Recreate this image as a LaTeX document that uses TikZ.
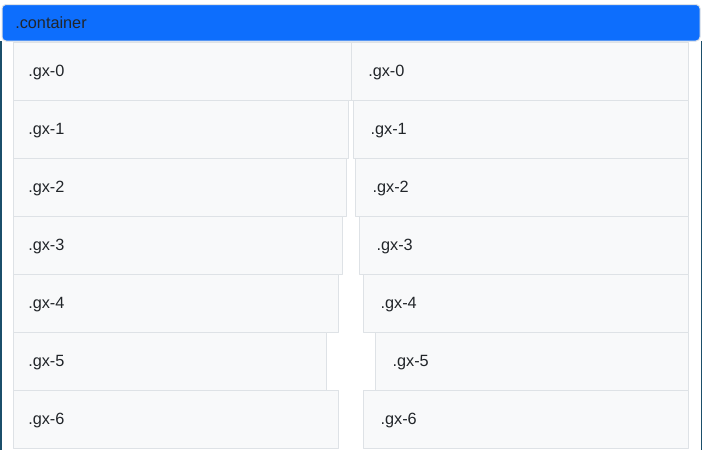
\documentclass[tikz,border=0pt]{standalone}
\usepackage{fontspec}
\setmainfont{Liberation Sans}
\usetikzlibrary{fit}
\definecolor{bsblue}{HTML}{0D6EFD}
\definecolor{bsgray}{HTML}{F8F9FA}
\definecolor{bsborder}{HTML}{DEE2E6}
\definecolor{bstext}{HTML}{212529}
\definecolor{sideline}{HTML}{1B4F6B}
\begin{document}
\begin{tikzpicture}[line cap=round,line join=round,x=0.75pt,y=-0.75pt,
    colbox/.style={draw=bsborder,fill=bsgray,line width=0.75pt,inner sep=0pt},
    headbox/.style={draw=bsborder,fill=bsblue,line width=0.75pt,inner sep=0pt,rounded corners=3pt},
    lbl/.style={anchor=west,inner sep=0pt,text=bstext,font=\fontsize{12.2}{14}\selectfont}]
                \useasboundingbox (0,0) rectangle (702,450);
                \fill [white] (0,0) rectangle (702,450);
                \fill [sideline] (0,41) rectangle (1.5,450);
                \fill [sideline] (700.5,41) rectangle (702,450);
                \node [headbox,fit={(2,4.5) (700,41)}] (header) {};
                \node [lbl] (headertxt) at (15,23) {.container};
                \foreach \i/\l/\r in {0/351/351,1/348.7/353.3,2/346.7/355.3,3/342.7/359.3,4/338.7/363.3,5/326.7/375.3,6/338.7/363.3}{
                \node [colbox,fit={(13,{42+58*\i}) (\l,{100+58*\i})}] (left\i) {};
                \node [colbox,fit={(\r,{42+58*\i}) (688.5,{100+58*\i})}] (right\i) {};
                \node [lbl] (lefttxt\i) at (28,{72.5+58*\i}) {.gx-\i};
                \node [lbl] (righttxt\i) at ({\r+17},{72.5+58*\i}) {.gx-\i};
                }
                \end{tikzpicture}
\end{document}
